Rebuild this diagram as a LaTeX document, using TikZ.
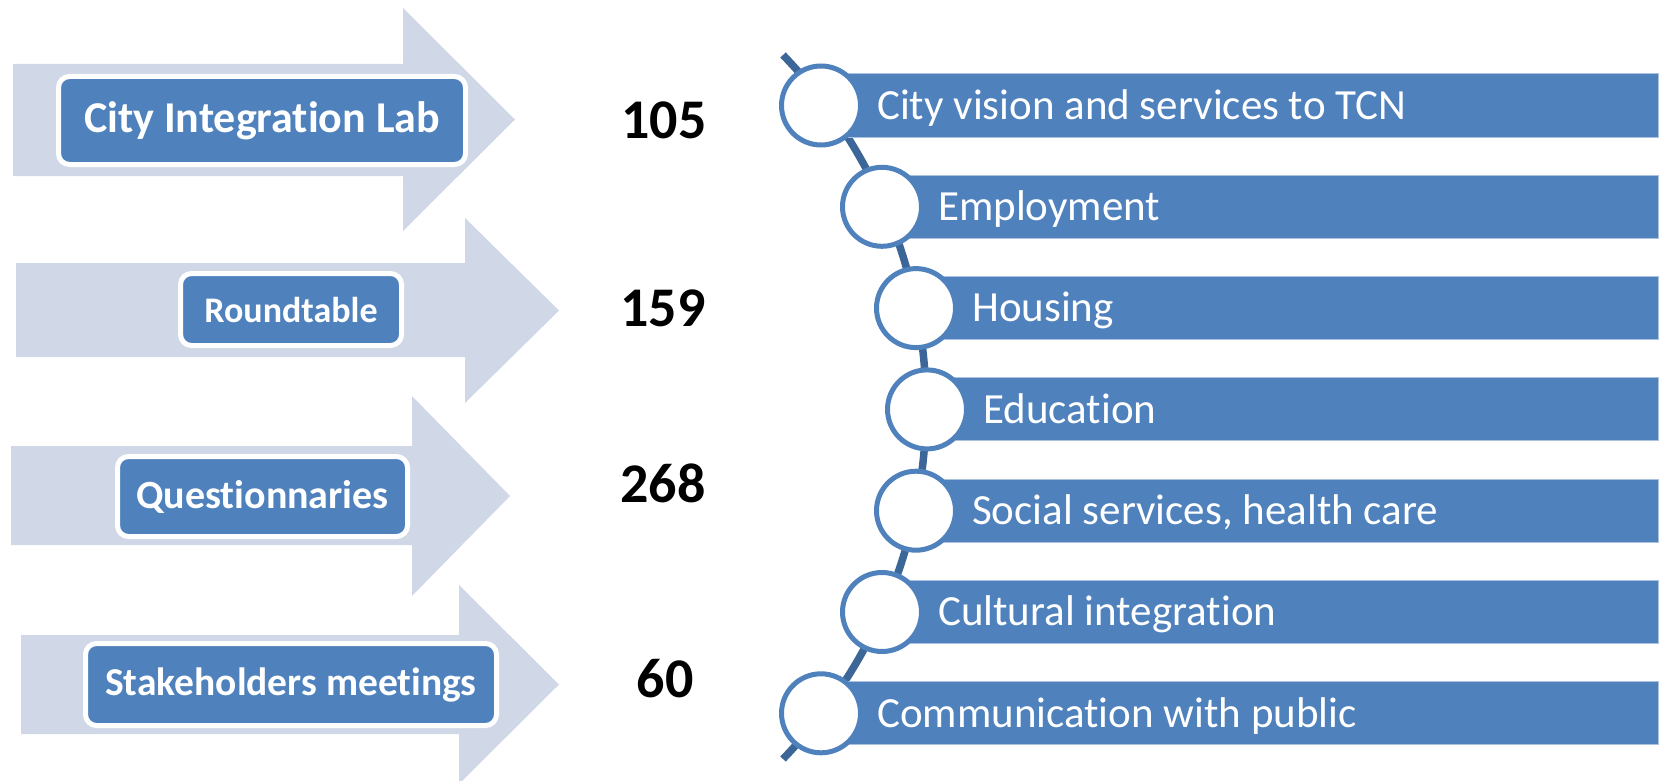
\documentclass[tikz,border=0pt]{standalone}
\usepackage{fontspec}
\setmainfont{Carlito}[Ligatures=NoCommon]
\definecolor{arrowfill}{RGB}{208,216,232}
\definecolor{accent}{RGB}{79,129,189}
\definecolor{linedark}{RGB}{60,102,152}
\definecolor{barline}{RGB}{170,194,224}
\begin{document}
\begin{tikzpicture}[x=1pt,y=-1pt,
  bigarrow/.style={fill=arrowfill},
  lbox/.style={draw=white, line width=5pt, fill=accent, rounded corners=11pt, text=white, inner sep=0pt},
  num/.style={font=\bfseries\fontsize{56}{60}\selectfont, text=black, inner sep=0pt},
  bar/.style={draw=barline, line width=1pt, fill=accent, anchor=west, minimum height=63pt, inner sep=0pt},
  circ/.style={circle, draw=accent, line width=5pt, fill=white, minimum size=79pt, inner sep=0pt},
  bartext/.style={anchor=base west, text=white, font=\fontsize{43}{47}\selectfont, inner sep=0pt},
  spine/.style={draw=linedark, line width=7.5pt}
]
\useasboundingbox (0,0) rectangle (1664,781);

% left arrows
\fill[bigarrow] (13,64) -- (403,64) -- (403,8) -- (515,119.5) -- (403,231) -- (403,176) -- (13,176) -- cycle;
\fill[bigarrow] (16,263) -- (465,263) -- (465,218) -- (559,310.5) -- (465,403) -- (465,357) -- (16,357) -- cycle;
\fill[bigarrow] (11,446) -- (412,446) -- (412,396) -- (510,496) -- (412,596) -- (412,545) -- (11,545) -- cycle;
\fill[bigarrow] (21,635) -- (459,635) -- (459,585) -- (559,684.5) -- (459,784) -- (459,734) -- (21,734) -- cycle;

% label boxes
\node[lbox, minimum width=407pt, minimum height=88pt, font=\bfseries\fontsize{44}{48}\selectfont] (b1) at (262,120.5) {City Integration Lab};
\node[lbox, minimum width=221pt, minimum height=72pt, font=\bfseries\fontsize{36}{40}\selectfont] (b2) at (291,309.5) {Roundtable};
\node[lbox, minimum width=290pt, minimum height=80pt, font=\bfseries\fontsize{40}{44}\selectfont] (b3) at (262.5,496.5) {Questionnaries};
\node[lbox, minimum width=411pt, minimum height=82pt, font=\bfseries\fontsize{39.5}{44}\selectfont] (b4) at (291,684.5) {Stakeholders meetings};

% numbers
\node[num] (n1) at (664,120) {105};
\node[num] (n2) at (663,308) {159};
\node[num] (n3) at (663,483) {268};
\node[num] (n4) at (665,679) {60};

% spine
\coordinate (ltop) at (783,55);
\coordinate (lbot) at (783,759);
\draw[spine] (ltop) to[bend left=44] (lbot);

% bars
\node[bar, minimum width=837pt] (r1) at (821,105.5) {};
\node[bar, minimum width=776pt] (r2) at (882,206.8) {};
\node[bar, minimum width=742pt] (r3) at (916,308.1) {};
\node[bar, minimum width=731pt] (r4) at (927,409.4) {};
\node[bar, minimum width=742pt] (r5) at (916,510.7) {};
\node[bar, minimum width=776pt] (r6) at (882,612) {};
\node[bar, minimum width=837pt] (r7) at (821,713.3) {};

% circles
\node[circ] (c1) at (821,105.5) {};
\node[circ] (c2) at (882,206.8) {};
\node[circ] (c3) at (916,308.1) {};
\node[circ] (c4) at (927,409.4) {};
\node[circ] (c5) at (916,510.7) {};
\node[circ] (c6) at (882,612) {};
\node[circ] (c7) at (821,713.3) {};

% bar texts
\node[bartext] (t1) at (877,119.3) {City vision and services to TCN};
\node[bartext] (t2) at (938,220.6) {Employment};
\node[bartext] (t3) at (972,321.9) {Housing};
\node[bartext] (t4) at (983,423.2) {Education};
\node[bartext] (t5) at (972,524.5) {Social services, health care};
\node[bartext] (t6) at (938,625.8) {Cultural integration};
\node[bartext] (t7) at (877,727.1) {Communication with public};
\end{tikzpicture}
\end{document}
